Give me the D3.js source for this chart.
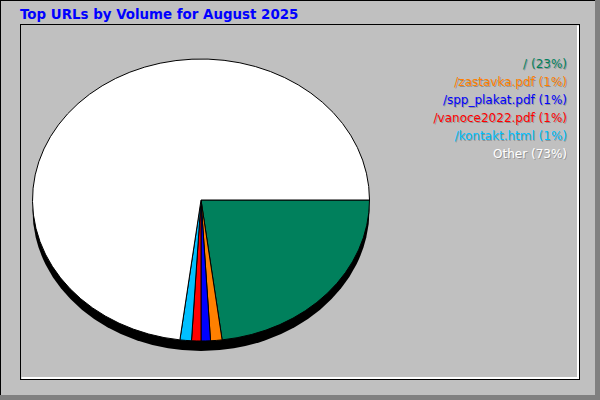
<!DOCTYPE html>
<html>
<head>
<meta charset="utf-8">
<script src="https://cdn.jsdelivr.net/npm/d3@7"></script>
<style>
  html, body { margin: 0; padding: 0; background: #fff; }
  svg { display: block; }
</style>
</head>
<body>
<svg id="chart" width="600" height="400"></svg>
<script>
// data
var title = "Top URLs by Volume for August 2025";
var urls = ["/", "/zastavka.pdf", "/spp_plakat.pdf", "/vanoce2022.pdf", "/kontakt.html", "Other"];
var percents = [23.0, 1.1, 0.9, 0.9, 1.1, 73.0];

var W = 600, H = 400;
var cx = 201, cy = 200, rx = 168.5, ry = 141;

var color = d3.scaleOrdinal()
  .domain(urls)
  .range(["#00805c", "#ff8000", "#0000ff", "#ff0000", "#00c0ff", "#ffffff"]);

var svg = d3.select("#chart");

// outer 3d box
svg.append("rect").attr("width", W).attr("height", H).attr("fill", "#c0c0c0");
svg.append("rect").attr("x", W - 5).attr("y", 0).attr("width", 5).attr("height", H).attr("fill", "#808080");
svg.append("rect").attr("x", 0).attr("y", H - 5).attr("width", W).attr("height", 5).attr("fill", "#808080");
svg.append("line").attr("x1", 0).attr("y1", 0.5).attr("x2", W - 5).attr("y2", 0.5).attr("stroke", "#000");
svg.append("line").attr("x1", 0.5).attr("y1", 0).attr("x2", 0.5).attr("y2", H - 5).attr("stroke", "#000");

// inner box
svg.append("rect")
  .attr("x", 20.5).attr("y", 24.5).attr("width", 559).attr("height", 355)
  .attr("fill", "none").attr("stroke", "#000");
svg.append("polyline")
  .attr("points", "21.5,378 578,378 578,25.5")
  .attr("fill", "none").attr("stroke", "#fff").attr("stroke-width", 2);

// title
svg.append("text")
  .attr("x", 20).attr("y", 19)
  .attr("font-family", "DejaVu Sans")
  .attr("font-weight", "bold")
  .attr("font-size", 13.4)
  .attr("fill", "#0000ff")
  .text(title);

// pie: circular d3 arcs squashed into an ellipse, so angles stay parametric
var pie = d3.pie()
  .sort(null)
  .startAngle(Math.PI / 2)
  .endAngle(Math.PI / 2 + 2 * Math.PI);

var arc = d3.arc().innerRadius(0).outerRadius(rx);

var arcs = pie(percents);

// shadow under the pie
svg.append("ellipse")
  .attr("cx", cx).attr("cy", cy + 10)
  .attr("rx", rx).attr("ry", ry)
  .attr("fill", "#000");

var g = svg.append("g")
  .attr("transform", "translate(" + cx + "," + cy + ") scale(1," + (ry / rx) + ")");

g.selectAll("path")
  .data(arcs)
  .enter()
  .append("path")
  .attr("d", arc)
  .attr("fill", function(d, i){ return color(urls[i]); })
  .attr("stroke", "#000")
  .attr("stroke-width", 1)
  .attr("vector-effect", "non-scaling-stroke")
  .attr("stroke-linejoin", "round");

// legend
var legend = svg.append("g")
  .attr("font-family", "DejaVu Sans")
  .attr("font-size", 12)
  .attr("text-anchor", "end");

function label(i){ return urls[i] + " (" + Math.round(percents[i]) + "%)"; }

// faint shadow first, then the coloured text
legend.selectAll("text.shadow")
  .data(urls)
  .enter()
  .append("text")
  .attr("class", "shadow")
  .attr("x", 568)
  .attr("y", function(d, i){ return 69 + i * 18; })
  .attr("fill", "rgba(0,0,0,0.25)")
  .text(function(d, i){ return label(i); });

legend.selectAll("text.lbl")
  .data(urls)
  .enter()
  .append("text")
  .attr("class", "lbl")
  .attr("x", 567)
  .attr("y", function(d, i){ return 68 + i * 18; })
  .attr("fill", function(d){ return color(d); })
  .text(function(d, i){ return label(i); });
</script>
</body>
</html>
